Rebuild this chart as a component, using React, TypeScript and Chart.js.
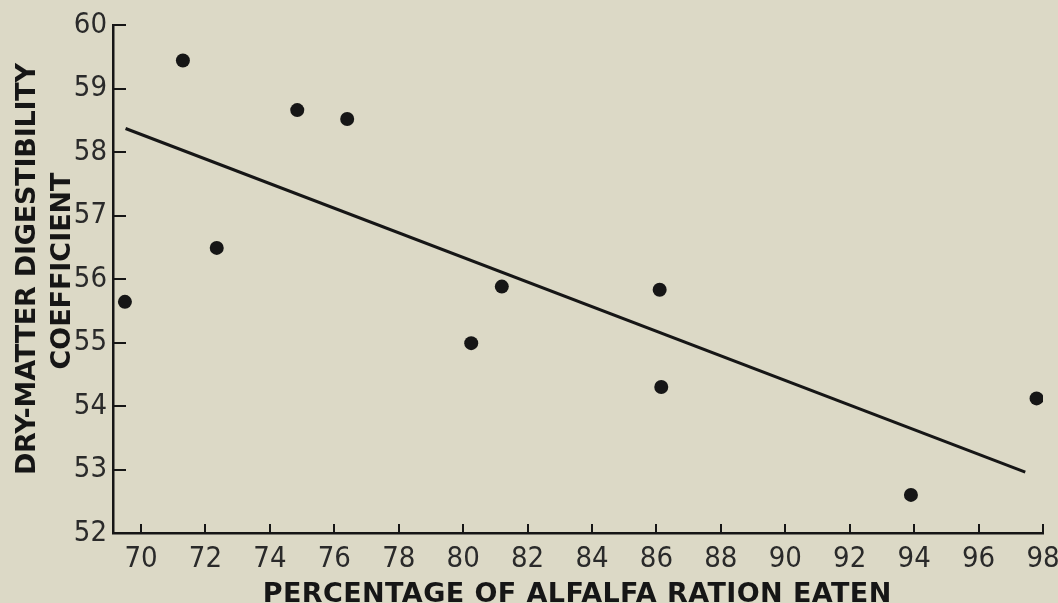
import React, { useEffect, useRef } from "react";
import { Chart, registerables } from "chart.js";

Chart.register(...registerables);

// ---- data ----
const pctEaten = [69.5, 71.3, 72.35, 74.85, 76.4, 80.25, 81.2, 86.1, 86.15, 93.9, 97.8];
const digestibility = [55.64, 59.44, 56.49, 58.66, 58.52, 54.99, 55.88, 55.83, 54.3, 52.6, 54.12];
const fitX = [69.52, 97.45];
const fitY = [58.37, 52.96];
const xTicks = [70, 72, 74, 76, 78, 80, 82, 84, 86, 88, 90, 92, 94, 96, 98];
const yTicks = [52, 53, 54, 55, 56, 57, 58, 59, 60];
const xTitle = "PERCENTAGE OF ALFALFA RATION EATEN";
const yTitle = ["DRY-MATTER DIGESTIBILITY", "COEFFICIENT"];

const INK = "#161616";
const BG = "#dcd9c6";
const TICK_FONT = '"Liberation Sans Narrow", "DejaVu Sans Condensed", sans-serif';
const TITLE_FONT = '"DejaVu Sans", sans-serif';

function drawSpaced(ctx: CanvasRenderingContext2D, text: string, x: number, y: number, width: number) {
  (ctx as any).letterSpacing = "0px";
  const w = ctx.measureText(text).width;
  const ls = (width - w) / text.length;
  (ctx as any).letterSpacing = ls + "px";
  ctx.fillText(text, x + ls / 2, y);
  (ctx as any).letterSpacing = "0px";
}

// inward tick marks, placed through the chart's own scales
const innerTicksPlugin = {
  id: "innerTicks",
  afterDatasetsDraw(chart: any) {
    const ctx: CanvasRenderingContext2D = chart.ctx;
    const xs = chart.scales.x;
    const ys = chart.scales.y;
    const area = chart.chartArea;
    ctx.save();
    ctx.strokeStyle = INK;
    ctx.lineWidth = 2;
    ctx.lineCap = "butt";
    ctx.beginPath();
    xTicks.forEach((v) => {
      const px = Math.round(xs.getPixelForValue(v));
      ctx.moveTo(px, area.bottom);
      ctx.lineTo(px, area.bottom - 9);
    });
    yTicks.forEach((v) => {
      const py = Math.round(ys.getPixelForValue(v));
      ctx.moveTo(area.left, py);
      ctx.lineTo(area.left + 13, py);
    });
    ctx.stroke();
    ctx.restore();
  },
};

const titlePlugin = {
  id: "axisTitles",
  afterDraw(chart: any) {
    const ctx: CanvasRenderingContext2D = chart.ctx;
    ctx.save();
    ctx.fillStyle = INK;
    ctx.font = `bold 27px ${TITLE_FONT}`;
    ctx.textAlign = "center";
    ctx.textBaseline = "alphabetic";
    drawSpaced(ctx, xTitle, 577, 602, 629);

    ctx.save();
    ctx.translate(35, 269);
    ctx.rotate(-Math.PI / 2);
    drawSpaced(ctx, yTitle[0], 0, 0, 412);
    ctx.restore();

    ctx.save();
    ctx.translate(70, 271);
    ctx.rotate(-Math.PI / 2);
    drawSpaced(ctx, yTitle[1], 0, 0, 197);
    ctx.restore();

    ctx.restore();
  },
};

export default function App() {
  const ref = useRef<HTMLCanvasElement | null>(null);

  useEffect(() => {
    if (!ref.current) return;
    const chart = new Chart(ref.current, {
      type: "scatter",
      data: {
        datasets: [
          {
            label: "observations",
            data: pctEaten.map((x, i) => ({ x, y: digestibility[i] })),
            backgroundColor: INK,
            borderWidth: 0,
            pointRadius: 7,
            pointHoverRadius: 7,
          },
          {
            label: "regression",
            data: fitX.map((x, i) => ({ x, y: fitY[i] })),
            showLine: true,
            borderColor: INK,
            borderWidth: 3,
            pointRadius: 0,
            pointHoverRadius: 0,
          } as any,
        ],
      },
      options: {
        animation: false,
        responsive: false,
        devicePixelRatio: 1,
        layout: { padding: { top: 25, right: 15, left: 0, bottom: 0 } },
        plugins: { legend: { display: false }, tooltip: { enabled: false } },
        scales: {
          x: {
            type: "linear",
            min: 69.13,
            max: 98,
            afterBuildTicks: (s: any) => {
              s.ticks = xTicks.map((v) => ({ value: v }));
            },
            afterFit: (s: any) => {
              s.height = 70;
              s.paddingLeft = 0;
              s.paddingRight = 0;
            },
            grid: { drawOnChartArea: false, drawTicks: false },
            border: { display: true, color: INK, width: 2.5 },
            ticks: {
              padding: 9,
              color: "#2a2a2a",
              font: { family: TICK_FONT, size: 29 },
              maxRotation: 0,
              autoSkip: false,
            },
          },
          y: {
            type: "linear",
            min: 52,
            max: 60,
            afterBuildTicks: (s: any) => {
              s.ticks = yTicks.map((v) => ({ value: v }));
            },
            afterFit: (s: any) => {
              s.width = 113;
              s.paddingTop = 0;
              s.paddingBottom = 0;
            },
            grid: { drawOnChartArea: false, drawTicks: false },
            border: { display: true, color: INK, width: 2.5 },
            ticks: {
              padding: 6,
              color: "#2a2a2a",
              font: { family: TICK_FONT, size: 29 },
              autoSkip: false,
            },
          },
        },
      },
      plugins: [innerTicksPlugin, titlePlugin],
    });
    return () => chart.destroy();
  }, []);

  return (
    <div
      style={{
        position: "fixed",
        left: 0,
        top: 0,
        width: 1058,
        height: 603,
        background: BG,
        overflow: "hidden",
      }}
    >
      <canvas ref={ref} width={1058} height={603} style={{ display: "block" }} />
    </div>
  );
}
